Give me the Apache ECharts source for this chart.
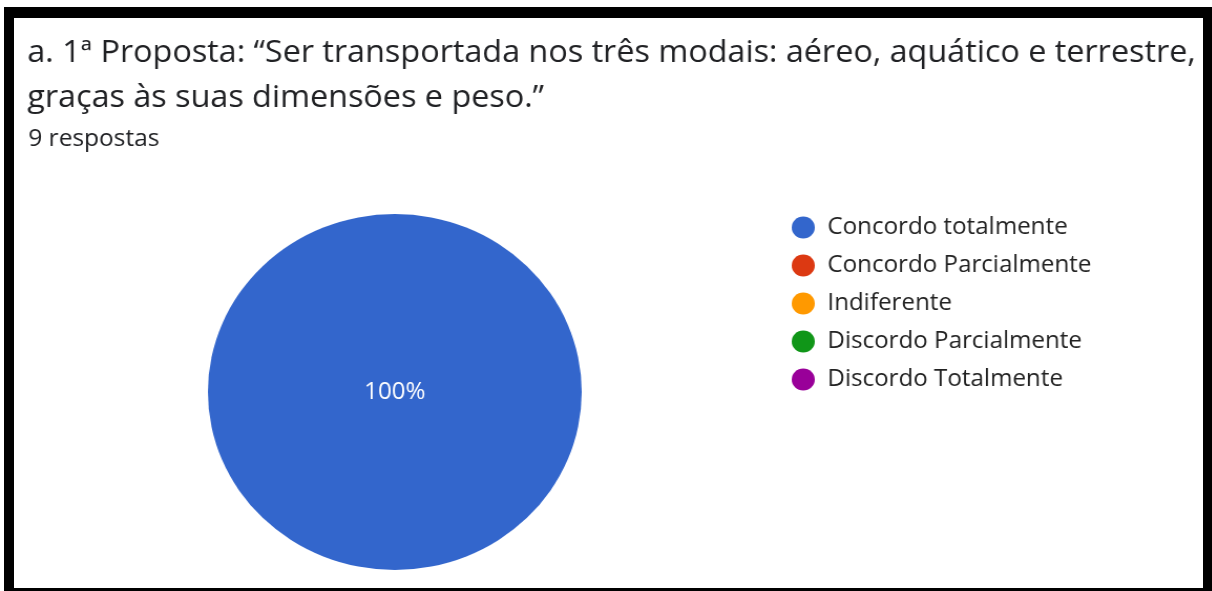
<!DOCTYPE html>
<html>
<head>
<meta charset="utf-8">
<script src="https://cdn.jsdelivr.net/npm/echarts@6/dist/echarts.min.js"></script>
<style>
  html, body { margin: 0; padding: 0; background: #ffffff; overflow: hidden; }
  #wrap { position: absolute; left: 0; top: 0; width: 1212px; height: 591px; }
  #chart { position: absolute; left: 0; top: 0; width: 1154px; height: 591px;
           transform: scaleX(1.05); transform-origin: 0 0; }
  #frame { position: absolute; left: 4px; top: 7px; width: 1208px; height: 584px;
           box-sizing: border-box; border-style: solid; border-color: #000;
           border-width: 11px 9px 3px 10px; pointer-events: none; }
</style>
</head>
<body>
<div id="wrap">
  <div id="chart"></div>
  <div id="frame"></div>
</div>
<script>
// Survey answers for the first proposal (9 responses)
const titleLines = [
  'a. 1ª Proposta: “Ser transportada nos três modais: aéreo, aquático e terrestre,',
  'graças às suas dimensões e peso.”'
];
const subtitle = '9 respostas';
const categories = [
  'Concordo totalmente',
  'Concordo Parcialmente',
  'Indiferente',
  'Discordo Parcialmente',
  'Discordo Totalmente'
];
const responses = [9, 0, 0, 0, 0];
const palette = ['#3366cc', '#dc3912', '#ff9900', '#109618', '#990099'];

const chart = echarts.init(document.getElementById('chart'), null, { renderer: 'canvas' });
const font = '"Open Sans", Roboto, sans-serif';

chart.setOption({
  animation: false,
  color: palette,
  title: [
    {
      text: titleLines.join('\n'),
      left: 21,
      top: 26,
      textStyle: { fontFamily: font, fontSize: 30.8, fontWeight: 'normal', color: '#202124', lineHeight: 45 }
    },
    {
      text: subtitle,
      left: 22,
      top: 122,
      textStyle: { fontFamily: font, fontSize: 23.3, fontWeight: 'normal', color: '#202124', lineHeight: 24 }
    }
  ],
  legend: {
    orient: 'vertical',
    left: 749,
    top: 211,
    icon: 'circle',
    itemWidth: 22,
    itemHeight: 22,
    itemGap: 15,
    selectedMode: false,
    data: categories,
    textStyle: { fontFamily: font, fontSize: 23, color: '#222222', padding: [0, 0, 0, 7] }
  },
  series: [{
    type: 'pie',
    center: [376, 392],
    radius: 178,
    startAngle: 90,
    clockwise: true,
    silent: true,
    label: {
      show: true,
      position: 'center',
      formatter: p => (p.value > 0 ? Math.round(p.percent) + '%' : ''),
      color: '#ffffff',
      fontFamily: font,
      fontSize: 23
    },
    labelLine: { show: false },
    itemStyle: { borderWidth: 0 },
    data: categories.map((name, i) => ({ name, value: responses[i] }))
  }]
});
</script>
</body>
</html>
